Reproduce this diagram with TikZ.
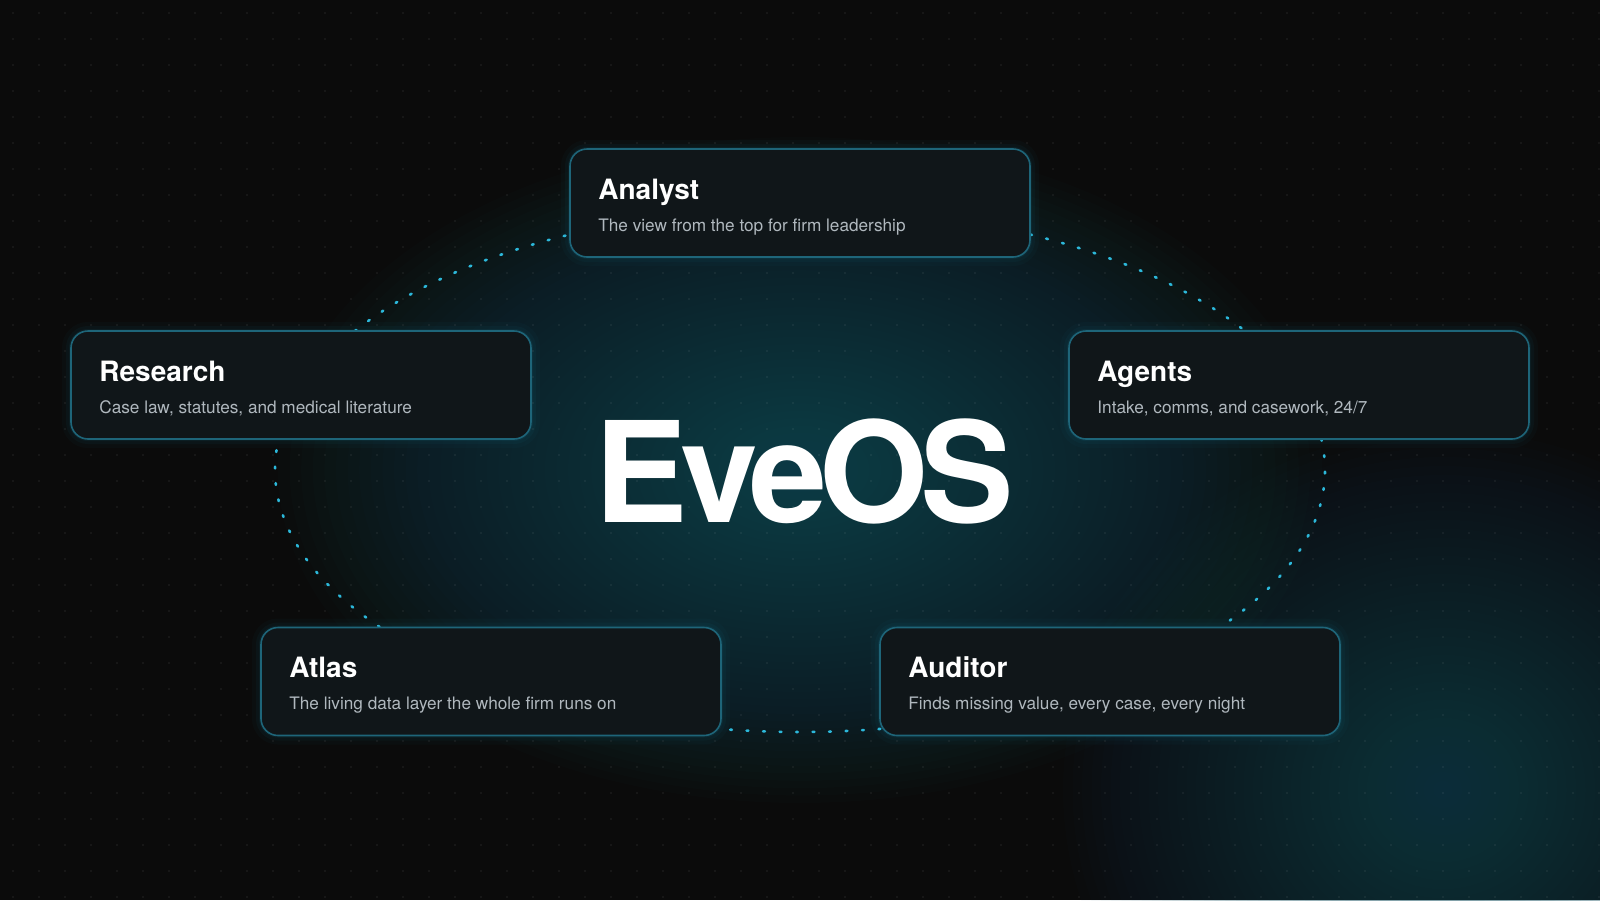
\documentclass[tikz,border=0pt]{standalone}
\usepackage{fontspec}
\setmainfont{TeX Gyre Heros}
\usetikzlibrary{calc}
\definecolor{bgc}{HTML}{0B0B0B}
\definecolor{glowc}{HTML}{1B5C6D}
\definecolor{glowb}{HTML}{17505F}
\definecolor{boxfill}{HTML}{101619}
\definecolor{boxline}{HTML}{1E6579}
\definecolor{haloc}{HTML}{1A8FAE}
\definecolor{dotc}{HTML}{2CB8DA}
\definecolor{subc}{HTML}{B0B8BE}
\begin{document}
\begin{tikzpicture}[x=1pt,y=-1pt,
  card/.style={draw=boxline, line width=1.6pt, fill=boxfill, rounded corners=17pt,
    minimum width=460pt, minimum height=108pt, inner sep=0pt,
    preaction={draw=haloc, line width=18pt, draw opacity=0.035},
    preaction={draw=haloc, line width=10pt, draw opacity=0.05},
    preaction={draw=haloc, line width=4pt, draw opacity=0.08}},
  ttl/.style={anchor=base west, inner sep=0pt, text=white, font=\fontsize{28}{28}\selectfont\bfseries},
  sub/.style={anchor=base west, inner sep=0pt, text=subc, font=\fontsize{17.2}{17.2}\selectfont},
  conn/.style={draw=dotc, line width=2.6pt, line cap=round, dash pattern=on 1.8pt off 14.7pt}]
\useasboundingbox (0,0) rectangle (1600,900);
\fill[bgc] (0,0) rectangle (1600,900);
% glows
\foreach \k in {1,...,45} {
  \fill[glowc, fill opacity=0.028] (800,470) ellipse [x radius=11.6*\k, y radius=7.4*\k];
}
\foreach \k in {1,...,40} {
  \fill[glowb, fill opacity=0.026] (1443,790) ellipse [x radius=9.5*\k, y radius=9*\k];
}
% dot grid
\fill[white, fill opacity=0.07] \foreach \i in {0,...,61} { \foreach \j in {0,...,34} { (13+26*\i, 13+26*\j) circle (1.1) } };
% ellipse geometry for connectors
\coordinate (O) at (800,470);
\path (O) ++(-147.96:525 and 262) coordinate (rs-top);
\path (O) ++(-64.0:525 and 262) coordinate (an-right);
\path (O) ++(-6.8:525 and 262) coordinate (ag-bot);
\path (O) ++(81.2:525 and 262) coordinate (au-left);
\path (O) ++(143.2:525 and 262) coordinate (at-top);
\draw[conn] (rs-top) arc[start angle=-147.96, end angle=-116.0, x radius=525, y radius=262];
\draw[conn] (an-right) arc[start angle=-64.0, end angle=-32.04, x radius=525, y radius=262];
\draw[conn] (ag-bot) arc[start angle=-6.8, end angle=36.8, x radius=525, y radius=262];
\draw[conn] (au-left) arc[start angle=81.2, end angle=98.66, x radius=525, y radius=262];
\draw[conn] (at-top) arc[start angle=143.2, end angle=186.8, x radius=525, y radius=262];
% cards
\node[card] (analyst) at (800,203) {};
\node[card] (research) at (301,385) {};
\node[card] (agents) at (1299,385) {};
\node[card] (atlas) at (491,681.5) {};
\node[card] (auditor) at (1110,681.5) {};
\foreach \n/\t/\s in {analyst/Analyst/The view from the top for firm leadership,
  research/Research/{Case law, statutes, and medical literature},
  agents/Agents/{Intake, comms, and casework, 24/7},
  atlas/Atlas/The living data layer the whole firm runs on,
  auditor/Auditor/{Finds missing value, every case, every night}} {
  \node[ttl] (\n-title) at ($(\n.north west)+(29,51)$) {\t};
  \node[sub] (\n-sub) at ($(\n.north west)+(29,83)$) {\s};
}
\node[anchor=base, inner sep=0pt, text=white, font=\fontsize{140}{140}\selectfont\bfseries] (eveos) at (804.5,522) {E\kern-8pt v\kern-9pt e\kern-7pt O\kern-8pt S};
\end{tikzpicture}
\end{document}
